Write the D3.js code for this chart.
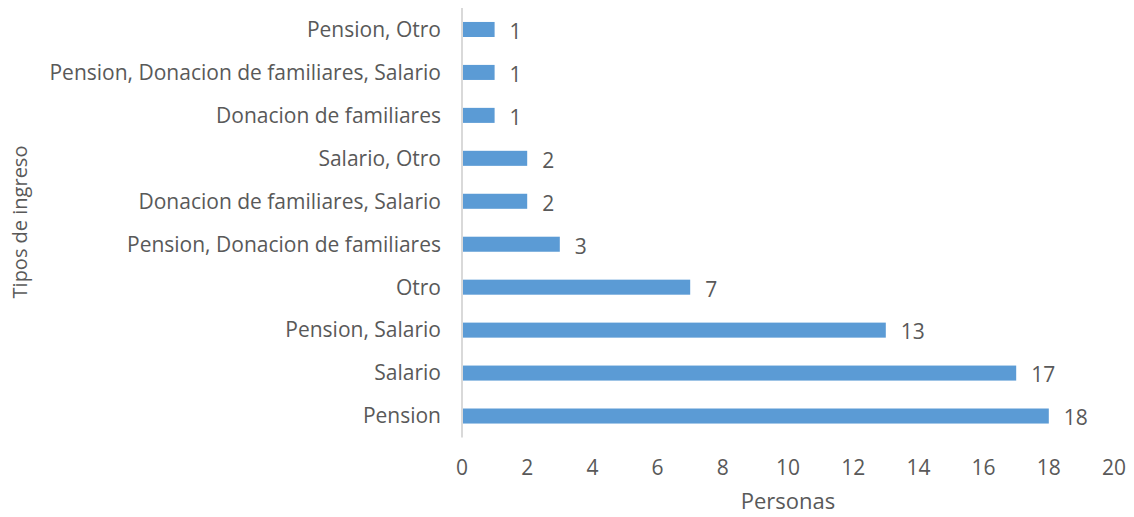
<!DOCTYPE html>
<html>
<head>
<meta charset="utf-8">
<script src="https://cdn.jsdelivr.net/npm/d3@7"></script>
<style>
  body { margin: 0; background: #fff; }
  svg text { font-family: "Open Sans", Lato, sans-serif; fill: #595959; }
</style>
</head>
<body>
<div id="chart"></div>
<script>
// categories bottom to top, as in the picture
var categories = ["Pension", "Salario", "Pension, Salario", "Otro", "Pension, Donacion de familiares",
  "Donacion de familiares, Salario", "Salario, Otro", "Donacion de familiares",
  "Pension, Donacion de familiares, Salario", "Pension, Otro"]
var values = [18, 17, 13, 7, 3, 2, 2, 1, 1, 1]
var xTicks = [0, 2, 4, 6, 8, 10, 12, 14, 16, 18, 20]

var width = 1134, height = 517

var svg = d3.select("#chart").append("svg")
    .attr("width", width)
    .attr("height", height)

var x = d3.scaleLinear()
    .domain([0, 20])
    .range([462, 1114])

// top category first so reverse
var y = d3.scaleBand()
    .domain(categories.slice().reverse())
    .range([8, 437.5])
    .paddingInner(0.65)
    .paddingOuter(0.325)

var data = categories.map(function(c, i) { return {cat: c, val: values[i]} })

svg.append("g")
  .selectAll("rect")
  .data(data)
  .enter().append("rect")
    .attr("x", x(0) + 1)
    .attr("y", d => y(d.cat))
    .attr("width", d => x(d.val) - x(0) - 1)
    .attr("height", y.bandwidth())
    .attr("fill", "#5B9BD5")

// axis line
svg.append("line")
    .attr("x1", x(0)).attr("x2", x(0))
    .attr("y1", 8).attr("y2", 437.5)
    .attr("stroke", "#D9D9D9")
    .attr("stroke-width", 2)

// category labels
svg.append("g")
  .selectAll("text")
  .data(categories)
  .enter().append("text")
    .attr("x", 441)
    .attr("y", d => y(d) + y.bandwidth() / 2)
    .attr("dy", "0.35em")
    .attr("text-anchor", "end")
    .style("font-size", "21px")
    .text(d => d)

// value labels
svg.append("g")
  .selectAll("text")
  .data(data)
  .enter().append("text")
    .attr("x", d => x(d.val) + 15)
    .attr("y", d => y(d.cat) + y.bandwidth() / 2 + 2)
    .attr("dy", "0.35em")
    .attr("text-anchor", "start")
    .style("font-size", "21px")
    .text(d => d.val)

// x ticks
svg.append("g")
  .selectAll("text")
  .data(xTicks)
  .enter().append("text")
    .attr("x", d => x(d))
    .attr("y", 468)
    .attr("dy", "0.35em")
    .attr("text-anchor", "middle")
    .style("font-size", "21px")
    .text(d => d)

svg.append("text")
    .attr("x", (x(0) + x(20)) / 2)
    .attr("y", 501)
    .attr("dy", "0.35em")
    .attr("text-anchor", "middle")
    .style("font-size", "22px")
    .text("Personas")

svg.append("text")
    .attr("transform", "translate(20,222) rotate(-90)")
    .attr("dy", "0.35em")
    .attr("text-anchor", "middle")
    .style("font-size", "20px")
    .text("Tipos de ingreso")
</script>
</body>
</html>
